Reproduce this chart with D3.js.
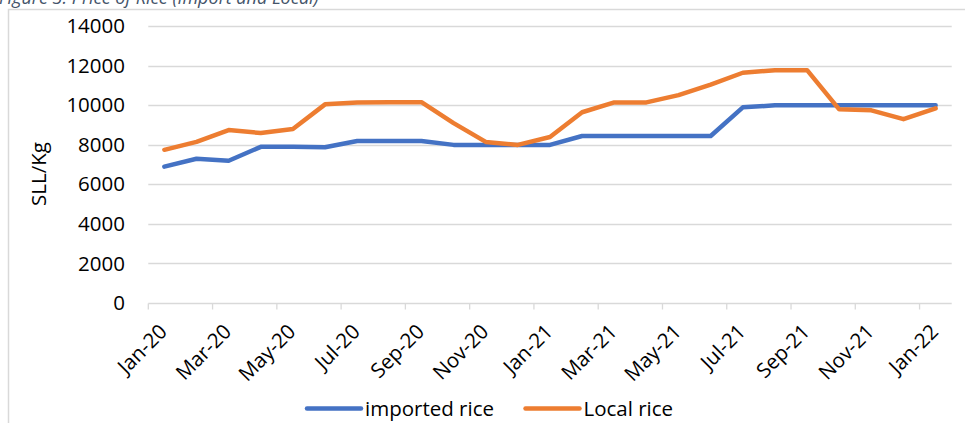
<!DOCTYPE html>
<html>
<head>
<meta charset="utf-8">
<script src="https://cdn.jsdelivr.net/npm/d3@7"></script>
<style>
  html, body { margin: 0; padding: 0; background: #fff; }
  svg { display: block; }
  text { font-family: "Open Sans", "Noto Sans", sans-serif; }
</style>
</head>
<body>
<svg id="chart" width="965" height="423"></svg>
<script>
// Monthly rice prices, Sierra Leone (SLL per kg)
const months = ["Jan-20","Feb-20","Mar-20","Apr-20","May-20","Jun-20","Jul-20","Aug-20","Sep-20","Oct-20","Nov-20","Dec-20",
                "Jan-21","Feb-21","Mar-21","Apr-21","May-21","Jun-21","Jul-21","Aug-21","Sep-21","Oct-21","Nov-21","Dec-21","Jan-22"];
const importedRice = [6900, 7300, 7200, 7900, 7900, 7880, 8200, 8200, 8200, 8000, 8000, 8000,
                      8000, 8450, 8450, 8450, 8450, 8450, 9900, 10000, 10000, 10000, 10000, 10000, 10000];
const localRice    = [7750, 8150, 8750, 8600, 8800, 10050, 10150, 10160, 10160, 9100, 8150, 8000,
                      8400, 9650, 10150, 10150, 10520, 11050, 11650, 11780, 11780, 9800, 9750, 9300, 9850];
const yTicks = [0, 2000, 4000, 6000, 8000, 10000, 12000, 14000];
const seriesNames = ["imported rice", "Local rice"];
const seriesColors = ["#4472C4", "#ED7D31"];
const titleText = "Figure 3: Price of Rice (Import and Local)";
const yTitle = "SLL/Kg";

const svg = d3.select("#chart");
const gridColor = "#d9d9d9";
const fontSize = 20.5;

// Caption above the chart frame
svg.append("text")
  .attr("x", -1).attr("y", 4)
  .attr("font-size", 18).attr("font-style", "italic")
  .attr("fill", "#44546A")
  .text(titleText);

// Chart frame
svg.append("rect")
  .attr("x", 8.5).attr("y", 9.5)
  .attr("width", 1000).attr("height", 500)
  .attr("fill", "none").attr("stroke", gridColor).attr("stroke-width", 1.5);

const x = d3.scaleBand().domain(months).range([148.3, 951.7]).paddingInner(0).paddingOuter(0);
const y = d3.scaleLinear().domain([0, 14000]).range([303, 26.3]);

// Horizontal gridlines
svg.append("g").selectAll("line")
  .data(yTicks.filter(d => d > 0))
  .join("line")
  .attr("x1", 148.3).attr("x2", 951.7)
  .attr("y1", d => Math.round(y(d)) + 0.5).attr("y2", d => Math.round(y(d)) + 0.5)
  .attr("stroke", gridColor).attr("stroke-width", 1.3);

// Y axis labels
const yAxis = d3.axisLeft(y).tickValues(yTicks).tickSize(0).tickPadding(0).tickFormat(d3.format("d"));
svg.append("g")
  .attr("transform", "translate(125,0)")
  .call(yAxis)
  .call(g => g.select(".domain").remove())
  .call(g => g.selectAll("text").attr("font-size", fontSize).attr("fill", "#000")
     .attr("font-family", "'Open Sans', sans-serif"));

// X axis: line, ticks every two months at category boundaries
const xAxisG = svg.append("g");
xAxisG.append("line")
  .attr("x1", 148.3).attr("x2", 951.7)
  .attr("y1", 303.5).attr("y2", 303.5)
  .attr("stroke", gridColor).attr("stroke-width", 1.3);
const tickMonths = months.filter((m, i) => i % 2 === 0);
xAxisG.selectAll("line.tick")
  .data(tickMonths)
  .join("line")
  .attr("class", "tick")
  .attr("x1", d => x(d)).attr("x2", d => x(d))
  .attr("y1", 303.5).attr("y2", 309.5)
  .attr("stroke", gridColor).attr("stroke-width", 1.3);
xAxisG.selectAll("text")
  .data(tickMonths)
  .join("text")
  .attr("transform", d => `translate(${x(d) + x.bandwidth() / 2 + 4},333) rotate(-45)`)
  .attr("text-anchor", "end")
  .attr("font-size", fontSize)
  .attr("fill", "#000")
  .text(d => d);

// Y axis title
svg.append("text")
  .attr("transform", "translate(46,174) rotate(-90)")
  .attr("text-anchor", "middle")
  .attr("font-size", fontSize)
  .attr("fill", "#000")
  .text(yTitle);

// Series lines
const line = d3.line()
  .x((d, i) => x(months[i]) + x.bandwidth() / 2)
  .y(d => y(d))
  .curve(d3.curveLinear);

[importedRice, localRice].forEach((vals, k) => {
  svg.append("path")
    .datum(vals)
    .attr("d", line)
    .attr("fill", "none")
    .attr("stroke", seriesColors[k])
    .attr("stroke-width", 4.5)
    .attr("stroke-linejoin", "round")
    .attr("stroke-linecap", "round");
});

// Legend
const legendItems = [
  { name: seriesNames[0], color: seriesColors[0], x0: 307 },
  { name: seriesNames[1], color: seriesColors[1], x0: 525.5 }
];
const lg = svg.append("g");
legendItems.forEach(it => {
  lg.append("line")
    .attr("x1", it.x0).attr("x2", it.x0 + 54)
    .attr("y1", 408.5).attr("y2", 408.5)
    .attr("stroke", it.color).attr("stroke-width", 4.5)
    .attr("stroke-linecap", "round");
  lg.append("text")
    .attr("x", it.x0 + 58).attr("y", 408.5)
    .attr("dy", "0.35em")
    .attr("font-size", fontSize)
    .attr("fill", "#000")
    .text(it.name);
});
</script>
</body>
</html>
